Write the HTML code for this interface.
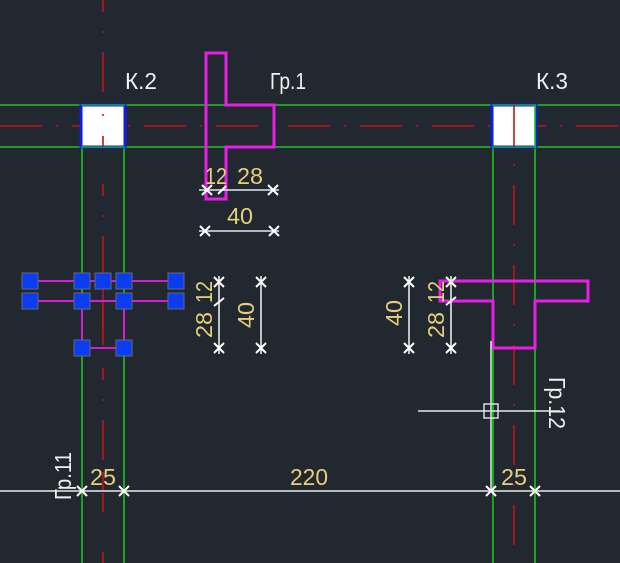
<!DOCTYPE html>
<html><head><meta charset="utf-8"><style>
html,body{margin:0;padding:0;background:#212830;overflow:hidden}
svg{display:block}
text{font-family:"Liberation Sans","DejaVu Sans",sans-serif;}
</style></head><body>
<svg width="620" height="563" viewBox="0 0 620 563" xmlns="http://www.w3.org/2000/svg">
<rect width="620" height="563" fill="#212830"/>
<g stroke="#1fc21f" stroke-width="1.6" fill="none">
<line x1="0" y1="105" x2="620" y2="105"/>
<line x1="0" y1="147" x2="620" y2="147"/>
<line x1="82" y1="147" x2="82" y2="563"/>
<line x1="124" y1="147" x2="124" y2="563"/>
<line x1="493" y1="147" x2="493" y2="563"/>
<line x1="535" y1="147" x2="535" y2="563"/>
</g>
<g stroke="#c0141a" stroke-width="1.6" fill="none">
<line x1="0" y1="126" x2="620" y2="126" stroke-dasharray="42,14,2,14"/>
<line x1="103" y1="0" x2="103" y2="563" stroke-dasharray="12,19,2,19,40"/>
<line x1="514" y1="105" x2="514" y2="563" stroke-dasharray="40,19,2,19"/>
</g>
<rect x="81" y="105" width="44" height="42" fill="#fff" stroke="#0a1ee6" stroke-width="3"/>
<rect x="492" y="105" width="44" height="42" fill="#fff" stroke="#0a1ee6" stroke-width="3"/>
<line x1="81" y1="105" x2="125" y2="105" stroke="#1fc21f" stroke-width="1.2"/>
<line x1="81" y1="147" x2="125" y2="147" stroke="#1fc21f" stroke-width="1.2"/>
<line x1="492" y1="105" x2="536" y2="105" stroke="#1fc21f" stroke-width="1.2"/>
<line x1="492" y1="147" x2="536" y2="147" stroke="#1fc21f" stroke-width="1.2"/>
<line x1="535" y1="105" x2="535" y2="147" stroke="#1fc21f" stroke-width="1.6"/>
<circle cx="103" cy="115" r="1" fill="#c0141a"/>
<line x1="103" y1="136" x2="103" y2="147" stroke="#c0141a" stroke-width="1.6"/>
<line x1="514" y1="105" x2="514" y2="147" stroke="#c0141a" stroke-width="1.6"/>
<g stroke="#e61ee6" stroke-width="3" fill="none">
<path d="M206,53 H226 V105 H274 V147 H226 V199 H206 Z"/>
<path d="M440,281 H588 V301 H535 V348 H493 V301 H440 Z"/>
</g>
<g stroke="#d21ed2" stroke-width="2" fill="none">
<line x1="30" y1="281" x2="176" y2="281"/>
<line x1="30" y1="301" x2="176" y2="301"/>
<line x1="82" y1="301" x2="82" y2="348"/>
<line x1="124" y1="301" x2="124" y2="348"/>
<line x1="82" y1="348" x2="124" y2="348"/>
</g>
<line x1="103" y1="305" x2="103" y2="345" stroke="#c0141a" stroke-width="1.6"/>
<g fill="#0a3cf0" stroke="#667" stroke-width="1">
<rect x="22" y="273" width="16" height="16"/><rect x="74" y="273" width="16" height="16"/>
<rect x="95" y="273" width="16" height="16"/><rect x="116" y="273" width="16" height="16"/>
<rect x="168" y="273" width="16" height="16"/>
<rect x="22" y="293" width="16" height="16"/><rect x="74" y="293" width="16" height="16"/>
<rect x="116" y="293" width="16" height="16"/><rect x="168" y="293" width="16" height="16"/>
<rect x="74" y="340" width="16" height="16"/><rect x="116" y="340" width="16" height="16"/>
</g>
<g stroke="#e8e8e8" stroke-width="1.6" fill="none">
<line x1="199" y1="190" x2="279" y2="190"/>
<line x1="199" y1="231" x2="279" y2="231"/>
<line x1="219" y1="276" x2="219" y2="354"/>
<line x1="261" y1="276" x2="261" y2="354"/>
<line x1="409" y1="276" x2="409" y2="354"/>
<line x1="451" y1="276" x2="451" y2="354"/>
<line x1="0" y1="491" x2="620" y2="491"/>
<line x1="418" y1="411" x2="560" y2="411"/>
<line x1="491" y1="341" x2="491" y2="491" stroke="#cfe8cf"/>
<rect x="484" y="404" width="14" height="14" stroke-width="1.4"/>
</g>
<g stroke="#fff" stroke-width="2">
<path d="M202,195 l10,-10 M202,185 l10,10 M218,194 l8,-8 M268,195 l10,-10 M268,185 l10,10"/>
<path d="M200,236 l10,-10 M200,226 l10,10 M269,236 l10,-10 M269,226 l10,10"/>
<path d="M214,287 l10,-10 M214,277 l10,10 M214,306 l10,-8 M214,353 l10,-10 M214,343 l10,10"/>
<path d="M256,287 l10,-10 M256,277 l10,10 M256,353 l10,-10 M256,343 l10,10"/>
<path d="M404,287 l10,-10 M404,277 l10,10 M404,353 l10,-10 M404,343 l10,10"/>
<path d="M446,287 l10,-10 M446,277 l10,10 M446,305 l10,-8 M446,353 l10,-10 M446,343 l10,10"/>
<path d="M77,496 l10,-10 M77,486 l10,10 M119,496 l10,-10 M119,486 l10,10 M486,496 l10,-10 M486,486 l10,10 M530,496 l10,-10 M530,486 l10,10"/>
</g>
<g fill="#f0f0f0" font-size="23">
<text x="125" y="89" textLength="32" lengthAdjust="spacingAndGlyphs">К.2</text>
<text x="270" y="89" textLength="36" lengthAdjust="spacingAndGlyphs">Гр.1</text>
<text x="536" y="89" textLength="32" lengthAdjust="spacingAndGlyphs">К.3</text>
<text transform="translate(71,500) rotate(-90)" textLength="48" lengthAdjust="spacingAndGlyphs">Гр.11</text>
<text transform="translate(549,377) rotate(90)" textLength="52" lengthAdjust="spacingAndGlyphs">Гр.12</text>
</g>
<g fill="#e6cf7a" font-size="23" text-anchor="middle">
<text x="216" y="184" textLength="22" lengthAdjust="spacingAndGlyphs">12</text>
<text x="250" y="184" textLength="26" lengthAdjust="spacingAndGlyphs">28</text>
<text x="240" y="224" textLength="26" lengthAdjust="spacingAndGlyphs">40</text>
<text x="103" y="485" textLength="26" lengthAdjust="spacingAndGlyphs">25</text>
<text x="309" y="485" textLength="38" lengthAdjust="spacingAndGlyphs">220</text>
<text x="514" y="485" textLength="26" lengthAdjust="spacingAndGlyphs">25</text>
<text transform="translate(212,292) rotate(-90)" textLength="22" lengthAdjust="spacingAndGlyphs">12</text>
<text transform="translate(212,325) rotate(-90)" textLength="26" lengthAdjust="spacingAndGlyphs">28</text>
<text transform="translate(254,315) rotate(-90)" textLength="26" lengthAdjust="spacingAndGlyphs">40</text>
<text transform="translate(402,313) rotate(-90)" textLength="26" lengthAdjust="spacingAndGlyphs">40</text>
<text transform="translate(444,292) rotate(-90)" textLength="22" lengthAdjust="spacingAndGlyphs">12</text>
<text transform="translate(444,325) rotate(-90)" textLength="26" lengthAdjust="spacingAndGlyphs">28</text>
</g>
</svg>
</body></html>
